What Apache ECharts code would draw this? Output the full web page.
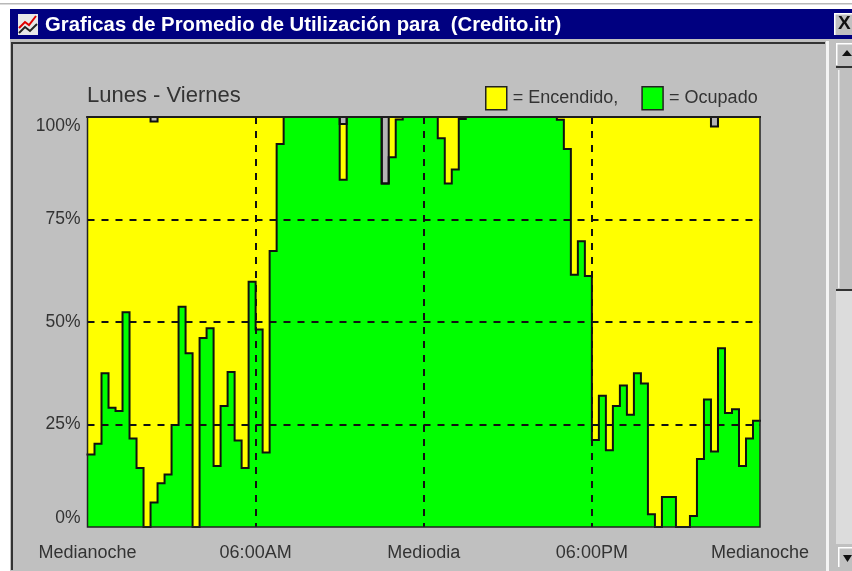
<!DOCTYPE html>
<html><head><meta charset="utf-8">
<style>html,body{margin:0;padding:0;background:#fff}#c{width:852px;height:571px}</style>
<script src="https://cdn.jsdelivr.net/npm/echarts@6/dist/echarts.min.js"></script>
</head><body><div id="c"></div>
<script>
const xTickLabels = ['Medianoche','06:00AM','Mediodia','06:00PM','Medianoche'];
const ocupado = [17.7,20.3,37.5,29.1,28.3,52.4,21.6,14.4,0,6,10.7,12.8,24.9,53.7,42.4,0,46.1,48.5,14.9,29.5,37.8,21.1,14.4,59.8,
48.2,18.2,67.3,93.4,100,100,100,100,100,100,100,100,84.7,100,100,100,100,100,83.8,90.2,99.4,100,100,100,100,100,94.8,83.8,87.2,99.5,
100,100,100,100,100,100,100,100,100,100,100,100,100,99.3,92.2,61.5,69.7,61.2,
21.2,32,18.7,29.5,34.5,27.4,37.5,35,3.1,0,7.3,7.3,0,0,2.7,16.6,31.1,18.4,43.6,27.8,28.7,14.9,21.6,25.9];
const encendido = [82.3,79.7,62.5,70.9,71.7,47.6,78.4,85.6,100,92.9,89.3,87.2,75.1,46.3,57.6,100,53.9,51.5,85.1,70.5,62.2,78.9,85.6,40.2,
51.8,81.8,32.7,6.6,0,0,0,0,0,0,0,0,13.6,0,0,0,0,0,0,9.8,0.6,0,0,0,0,0,5.2,16.2,12.8,0.5,
0,0,0,0,0,0,0,0,0,0,0,0,0,0.7,7.8,38.5,30.3,38.8,
78.8,68,81.3,70.5,65.5,72.6,62.5,65,96.9,100,92.7,92.7,100,100,97.3,83.4,68.9,79.3,56.4,72.2,71.3,85.1,78.4,74.1];
const apagado = [0,0,0,0,0,0,0,0,0,1.1,0,0,0,0,0,0,0,0,0,0,0,0,0,0,
0,0,0,0,0,0,0,0,0,0,0,0,1.7,0,0,0,0,0,16.2,0,0,0,0,0,0,0,0,0,0,0,
0,0,0,0,0,0,0,0,0,0,0,0,0,0,0,0,0,0,
0,0,0,0,0,0,0,0,0,0,0,0,0,0,0,0,0,2.3,0,0,0,0,0,0];

const quarterHours = ocupado.concat([0]).map((_,i)=>String(i));
const withEnd = a => a.concat([a[a.length-1]]);
const mk = (name,data,color) => ({
  name, type:'line', stack:'u', step:'end', showSymbol:false, silent:true,
  data:withEnd(data), itemStyle:{color}, areaStyle:{color,opacity:1},
  lineStyle:{color:'#111',width:2,cap:'square',join:'miter'}
});
const txt = '#333';
const R = (x,y,w,h,fill,z) => ({type:'rect',silent:true,z:z||0,shape:{x,y,width:w,height:h},style:{fill}});
const chart = echarts.init(document.getElementById('c'),null,{renderer:'canvas'});
chart.setOption({
  animation:false,
  backgroundColor:'#fff',
  title:{text:'Lunes - Viernes',left:87,top:85,padding:0,textStyle:{color:txt,fontSize:22,fontWeight:'normal',fontFamily:'Liberation Sans'}},
  legend:{left:485,top:86,padding:0,itemGap:23,itemWidth:21,itemHeight:23,icon:'rect',selectedMode:false,
    data:['Encendido','Ocupado'],
    formatter:n=> n==='Encendido' ? '= Encendido,' : '= Ocupado',
    itemStyle:{borderColor:'#222',borderWidth:1.5},
    textStyle:{color:txt,fontSize:18,fontFamily:'Liberation Sans',padding:[3,0,0,1]}},
  grid:{left:87.5,right:92,top:117,bottom:44,show:true,z:6,backgroundColor:'transparent',borderColor:'#222',borderWidth:1.5},
  xAxis:{type:'category',data:quarterHours,boundaryGap:false,z:5,
    axisLine:{show:false},axisTick:{show:false},
    axisLabel:{interval:23,color:txt,fontSize:18,margin:17,fontFamily:'Liberation Sans',showMinLabel:true,showMaxLabel:true,
      formatter:(v,i)=>xTickLabels[i/24]},
    splitLine:{show:true,interval:23,showMinLine:false,showMaxLine:false,lineStyle:{color:'#111',width:2,type:[7,7]}}},
  yAxis:{type:'value',min:0,max:100,interval:25,z:5,
    axisLine:{show:false},axisTick:{show:false},
    axisLabel:{color:txt,fontSize:17.5,margin:7,fontFamily:'Liberation Sans',formatter:'{value}%',
      verticalAlignMinLabel:'bottom',verticalAlignMaxLabel:'top'},
    splitLine:{show:true,showMinLine:false,showMaxLine:false,lineStyle:{color:'#111',width:2,type:[7,7]}}},
  series:[mk('Ocupado',ocupado,'#00ff00'),mk('Encendido',encendido,'#ffff00'),mk('Apagado',apagado,'#b4b4b4')],
  graphic:{elements:[
    R(10,9,842,562,'#c0c0c0',-10),
    R(0,3,852,1.5,'#b8b8b8',-9),
    R(10,9,842,30,'#000080',-9),
    R(11,42,814,2,'#333',-9),
    R(11,42,2,528,'#333',-9),
    R(826,41,3,530,'#f4f4f4',-9),
    R(18,14,20,21,'#e8e8e8',-8),
    {type:'polyline',silent:true,z:-7,shape:{points:[[19,28],[25,22],[29,25],[36,16]]},style:{stroke:'#e00000',lineWidth:2,fill:null}},
    {type:'polyline',silent:true,z:-7,shape:{points:[[19,33],[25,27],[30,31],[37,24]]},style:{stroke:'#222',lineWidth:2,fill:null}},
    {type:'text',silent:true,z:-7,x:45,y:15,style:{text:'Graficas de Promedio de Utilización para  (Credito.itr)',fill:'#fff',font:'bold 20.3px "Liberation Sans"'}},
    R(834,13,18,22,'#c0c0c0',-8),R(834,13,18,1.5,'#fff',-7),R(834,13,1.5,22,'#fff',-7),
    {type:'text',silent:true,z:-6,x:838,y:14,style:{text:'X',fill:'#111',font:'bold 19px "Liberation Sans"'}},
    R(835,43,17,528,'#c0c0c0',-8),
    R(836,43,16,1.5,'#fff',-7),R(836,43,1.5,22,'#fff',-7),
    {type:'polygon',silent:true,z:-6,shape:{points:[[842,56],[852,56],[847,50]]},style:{fill:'#111'}},
    R(836,66,16,2,'#333',-7),
    R(838,70,1.5,218,'#f0f0f0',-7),
    R(836,289,16,2,'#333',-7),
    R(836,291,16,253,'#dcdcdc',-7),
    R(838,547,14,1.5,'#fff',-6),R(838,547,1.5,20,'#fff',-6),
    {type:'polygon',silent:true,z:-6,shape:{points:[[843,555],[852,555],[847.5,562]]},style:{fill:'#111'}}
  ]}
});
</script></body></html>
